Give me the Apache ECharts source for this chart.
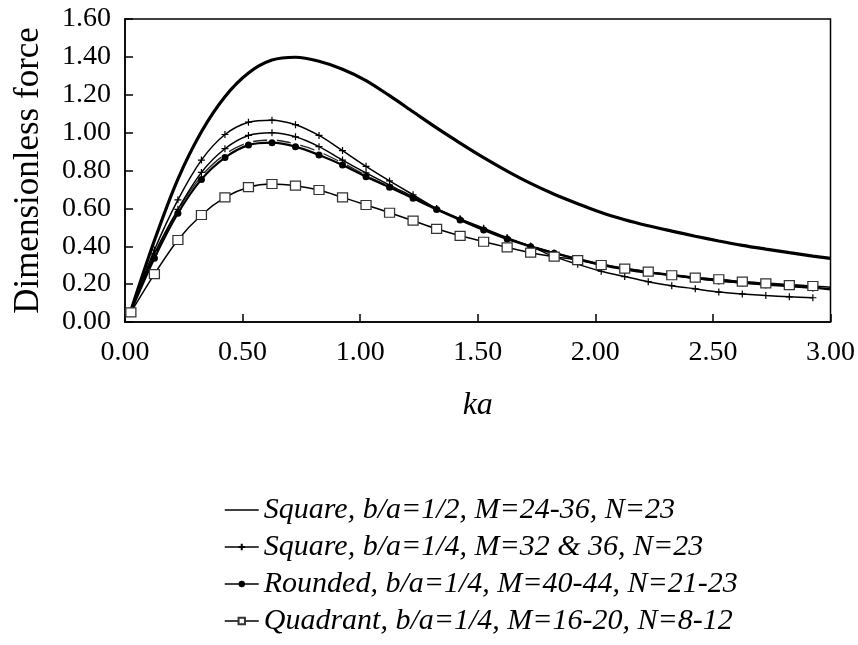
<!DOCTYPE html>
<html>
<head>
  <meta charset="utf-8" />
  <title>Dimensionless force vs ka</title>
  <style>
    html, body { margin: 0; padding: 0; background: #fff; }
    #main { width: 858px; height: 645px; }
  </style>
</head>
<body>
  <div id="main"></div>
  <script src="https://cdn.jsdelivr.net/npm/echarts@6/dist/echarts.min.js"></script>
  <script>
    // ka positions of the computed points
    var ka = [0.025, 0.125, 0.225, 0.325, 0.425, 0.525, 0.625, 0.725, 0.825, 0.925,
      1.025, 1.125, 1.225, 1.325, 1.425, 1.525, 1.625, 1.725, 1.825, 1.925,
      2.025, 2.125, 2.225, 2.325, 2.425, 2.525, 2.625, 2.725, 2.825, 2.925];
    var kaEnd = 3.0; // curves that run on to the right border

    // Square, b/a=1/2 (thick line, no markers)
    var squareHalf = [0.06, 0.43, 0.755, 1.005, 1.19, 1.315, 1.383, 1.398, 1.377, 1.335,
      1.275, 1.195, 1.11, 1.025, 0.945, 0.868, 0.797, 0.732, 0.675, 0.625,
      0.578, 0.54, 0.508, 0.48, 0.453, 0.428, 0.405, 0.385, 0.366, 0.348];
    var squareHalfEnd = 0.336;

    // Square, b/a=1/4, M=32 and M=36 (+ markers)
    var squareQ32 = [0.06, 0.38, 0.645, 0.855, 0.99, 1.055, 1.066, 1.042, 0.985, 0.905,
      0.822, 0.745, 0.672, 0.60, 0.545, 0.495, 0.445, 0.40, 0.345, 0.305,
      0.268, 0.24, 0.213, 0.192, 0.175, 0.158, 0.148, 0.14, 0.133, 0.128];
    var squareQ36 = [0.06, 0.36, 0.595, 0.79, 0.915, 0.985, 1.0, 0.978, 0.926, 0.855,
      0.787, 0.723, 0.662, 0.598, 0.543, 0.492, 0.443, 0.40, 0.365, 0.332,
      0.305, 0.282, 0.262, 0.245, 0.23, 0.217, 0.206, 0.196, 0.187, 0.178];

    // Rounded, b/a=1/4 (filled and open circles)
    var roundedA = [0.055, 0.336, 0.574, 0.753, 0.868, 0.934, 0.947, 0.926, 0.882, 0.829,
      0.767, 0.711, 0.653, 0.594, 0.539, 0.486, 0.438, 0.398, 0.363, 0.331,
      0.301, 0.278, 0.26, 0.248, 0.231, 0.218, 0.208, 0.201, 0.192, 0.183];
    var roundedAEnd = 0.172;
    var roundedB = [0.06, 0.35, 0.59, 0.77, 0.885, 0.947, 0.961, 0.94, 0.899, 0.84,
      0.775, 0.715, 0.655, 0.596, 0.541, 0.49, 0.442, 0.402, 0.368, 0.336,
      0.307, 0.284, 0.265, 0.252, 0.237, 0.225, 0.214, 0.206, 0.198, 0.19];

    // Quadrant, b/a=1/4 (open squares)
    var quadrant = [0.051, 0.253, 0.433, 0.565, 0.658, 0.712, 0.729, 0.72, 0.697, 0.658,
      0.618, 0.577, 0.535, 0.492, 0.455, 0.424, 0.394, 0.366, 0.345, 0.327,
      0.301, 0.282, 0.266, 0.247, 0.234, 0.226, 0.213, 0.204, 0.195, 0.19];
    var quadrantEnd = 0.184;

    var names = [
      'Square, b/a=1/2, M=24-36, N=23',
      'Square, b/a=1/4, M=32 & 36, N=23',
      'Rounded, b/a=1/4, M=40-44, N=21-23',
      'Quadrant, b/a=1/4, M=16-20, N=8-12'
    ];

    function pairs(xs, ys, endY) {
      var out = [];
      for (var i = 0; i < ys.length; i++) {
        out.push([xs[i], ys[i]]);
      }
      if (endY !== undefined) {
        out.push({ value: [kaEnd, endY], symbol: 'none' });
      }
      return out;
    }

    var plus = 'path://M5,0L5,10M0,5L10,5';
    var font = '"Liberation Serif", "Times New Roman", serif';

    var myChart = echarts.init(document.getElementById('main'));

    var option = {
      animation: false,
      backgroundColor: '#fff',
      grid: {
        left: 125, right: 26, top: 19, bottom: 323,
        show: true, borderColor: '#000', borderWidth: 1.5
      },
      legend: {
        orient: 'vertical',
        left: 219,
        top: 490,
        itemGap: 7,
        itemWidth: 34,
        itemHeight: 8,
        data: [
          { name: names[0], itemStyle: { color: 'rgba(0,0,0,0)', borderWidth: 0 } },
          { name: names[1] },
          { name: names[2] },
          { name: names[3] }
        ],
        lineStyle: { width: 1.5, color: '#000' },
        textStyle: {
          fontFamily: font, fontStyle: 'italic', fontSize: 30, color: '#000'
        }
      },
      xAxis: {
        type: 'value', min: 0, max: 3, interval: 0.5,
        name: 'ka', nameLocation: 'middle', nameGap: 68,
        nameTextStyle: { fontFamily: font, fontStyle: 'italic', fontSize: 32, color: '#000' },
        axisLine: { lineStyle: { color: '#000', width: 1.5 } },
        axisTick: { inside: true, length: 8, lineStyle: { color: '#000', width: 1.5 } },
        axisLabel: {
          margin: 17, fontFamily: font, fontSize: 28, color: '#000',
          formatter: function (v) { return v.toFixed(2); }
        },
        splitLine: { show: false }
      },
      yAxis: {
        type: 'value', min: 0, max: 1.6, interval: 0.2,
        name: 'Dimensionless force', nameLocation: 'middle', nameGap: 79, nameRotate: 90,
        nameTextStyle: { fontFamily: font, fontSize: 35, color: '#000' },
        axisLine: { lineStyle: { color: '#000', width: 1.5 } },
        axisTick: { inside: true, length: 8, lineStyle: { color: '#000', width: 1.5 } },
        axisLabel: {
          margin: 14, fontFamily: font, fontSize: 28, color: '#000',
          formatter: function (v) { return v.toFixed(2); }
        },
        splitLine: { show: false }
      },
      series: [
        {
          name: names[0], type: 'line', data: pairs(ka, squareHalf, squareHalfEnd),
          symbol: 'none', smooth: 0.3,
          lineStyle: { color: '#000', width: 3.2 }, itemStyle: { color: '#000' }
        },
        {
          name: names[1], type: 'line', data: pairs(ka, squareQ32),
          symbol: plus, symbolSize: 7, smooth: 0.3,
          lineStyle: { color: '#000', width: 1.5 },
          itemStyle: { color: '#000', borderColor: '#000', borderWidth: 1.2 }
        },
        {
          name: names[1], type: 'line', data: pairs(ka, squareQ36),
          symbol: plus, symbolSize: 7, smooth: 0.3,
          lineStyle: { color: '#000', width: 1.5 },
          itemStyle: { color: '#000', borderColor: '#000', borderWidth: 1.2 }
        },
        {
          name: names[2], type: 'line', data: pairs(ka, roundedA, roundedAEnd),
          symbol: 'circle', symbolSize: 7, smooth: 0.3, z: 3,
          lineStyle: { color: '#000', width: 2.2 }, itemStyle: { color: '#000' }
        },
        {
          name: names[2], type: 'line', data: pairs(ka, roundedB),
          symbol: 'emptyCircle', symbolSize: 8, smooth: 0.3, z: 2,
          lineStyle: { color: '#222', width: 1.3 },
          itemStyle: { color: '#fff', borderColor: '#333', borderWidth: 1 }
        },
        {
          name: names[3], type: 'line', data: pairs(ka, quadrant, quadrantEnd),
          symbol: 'rect', symbolSize: [10, 9], smooth: 0.3,
          lineStyle: { color: '#000', width: 1.5 },
          itemStyle: { color: '#fff', borderColor: '#333', borderWidth: 1.2 }
        }
      ]
    };

    myChart.setOption(option);
  </script>
</body>
</html>
